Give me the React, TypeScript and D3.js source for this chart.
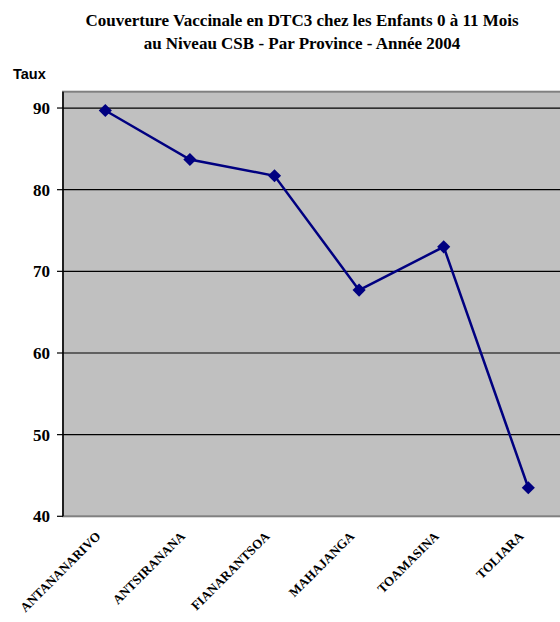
import React from "react";
import * as d3 from "d3";

const provinces = ["ANTANANARIVO", "ANTSIRANANA", "FIANARANTSOA", "MAHAJANGA", "TOAMASINA", "TOLIARA"];
const taux = [89.7, 83.7, 81.7, 67.7, 73.0, 43.5];
const yTicks = [40, 50, 60, 70, 80, 90];
const titleLines = [
  "Couverture Vaccinale en DTC3 chez les Enfants 0 à 11 Mois",
  "au Niveau CSB - Par Province - Année 2004",
];

const W = 560;
const H = 622;
const left = 63;
const top = 91.7;
const bottom = 516.3;
const right = 570.6;

export default function App() {
  const x = d3.scaleBand<string>().domain(provinces).range([left, right]).paddingInner(0).paddingOuter(0);
  const y = d3.scaleLinear().domain([40, 92]).range([bottom, top]);
  const cx = (p: string) => (x(p) as number) + x.bandwidth() / 2;
  const data = provinces.map((p, i) => ({ p, v: taux[i] }));
  const line = d3
    .line<{ p: string; v: number }>()
    .x((d) => cx(d.p))
    .y((d) => y(d.v));
  const diamond = d3.symbol().type(d3.symbolDiamond2).size(110);
  const serif = "Liberation Serif, DejaVu Serif, serif";
  return (
    <svg
      width={W}
      height={H}
      style={{ position: "absolute", left: 0, top: 0, background: "#fff" }}
    >
      {titleLines.map((t, i) => (
        <text
          key={i}
          x={302}
          y={26 + i * 23}
          textAnchor="middle"
          style={{ fontFamily: serif }}
          fontWeight="bold"
          fontSize={17}
          fill="#000"
        >
          {t}
        </text>
      ))}
      <text x={13} y={79} style={{ fontFamily: "Liberation Sans, Arial, sans-serif" }} fontWeight="bold" fontSize={14.5} fill="#000">
        Taux
      </text>
      <rect x={left} y={top} width={right - left} height={bottom - top} fill="#C0C0C0" stroke="#808080" strokeWidth={2} />
      {yTicks.map((t) => (
        <g key={t}>
          {t !== 40 && <line x1={left} x2={right} y1={y(t)} y2={y(t)} stroke="#000" strokeWidth={1.2} />}
          <line x1={left - 6} x2={left} y1={y(t)} y2={y(t)} stroke="#000" strokeWidth={1.2} />
          <text
            x={50}
            y={y(t)}
            dy="0.35em"
            textAnchor="end"
            style={{ fontFamily: serif }}
            fontWeight="bold"
            fontSize={17}
            fill="#000"
          >
            {t}
          </text>
        </g>
      ))}
      <line x1={left} x2={left} y1={top} y2={bottom} stroke="#000" strokeWidth={1.5} />
      <path d={line(data) ?? ""} fill="none" stroke="#000080" strokeWidth={2.5} />
      {data.map((d) => (
        <path key={d.p} d={diamond() ?? ""} transform={`translate(${cx(d.p)},${y(d.v)})`} fill="#000080" />
      ))}
      {provinces.map((p) => (
        <text
          key={p}
          transform={`translate(${cx(p) - 4},${537}) rotate(-45)`}
          textAnchor="end"
          style={{ fontFamily: serif }}
          fontWeight="bold"
          fontSize={13}
          fill="#000"
        >
          {p}
        </text>
      ))}
    </svg>
  );
}
